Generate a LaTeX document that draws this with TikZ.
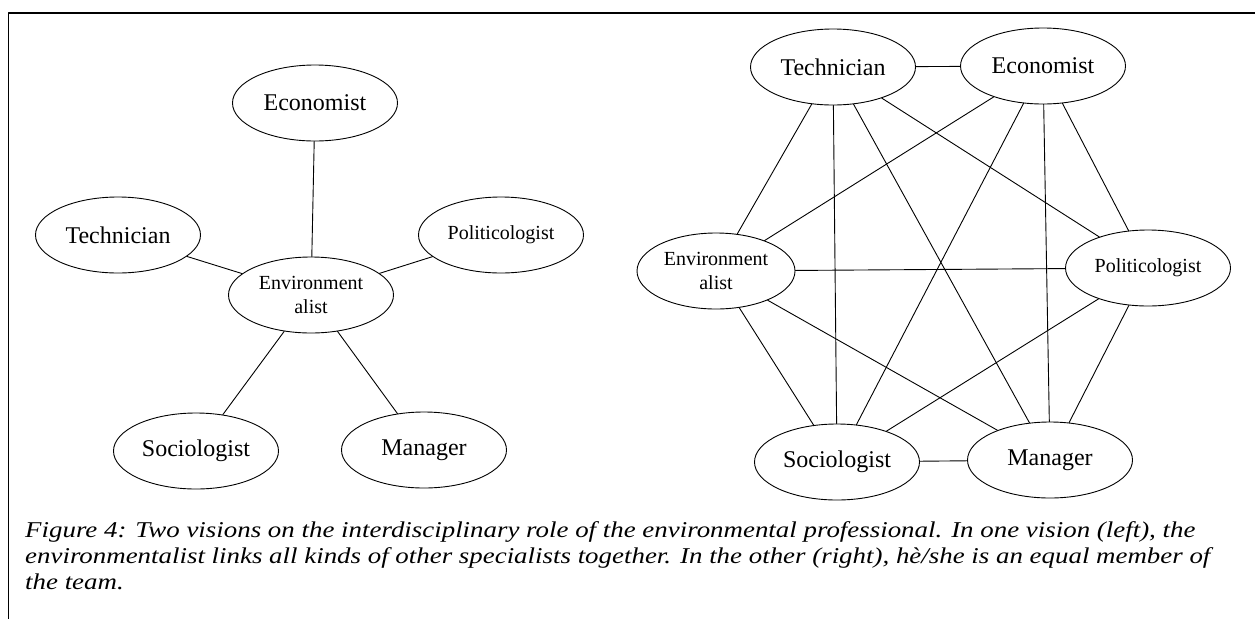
\documentclass[tikz,border=0pt]{standalone}
\usepackage{fontspec}
\setmainfont{Liberation Serif}
\newfontfamily\capfont[FakeStretch=1.19]{Liberation Serif}
\usetikzlibrary{shapes.geometric}
\begin{document}
\begin{tikzpicture}[
  x=1pt, y=-1pt,
  line join=round, line cap=round,
  role/.style={draw, ellipse, line width=0.9pt, minimum width=165pt,
    minimum height=76pt, inner sep=0pt, font=\fontsize{24}{26}\selectfont},
  small/.style={font=\fontsize{20}{24.5}\selectfont, align=center},
  link/.style={line width=0.9pt},
  capline/.style={anchor=base west, inner sep=0pt,
    font=\capfont\itshape\fontsize{22.6}{26}\selectfont},
]
\useasboundingbox (0,0) rectangle (1255,619);

% the frame
\draw[line width=1.7pt, line cap=butt] (1255,12.7) -| (8.5,619);

% left: the environmentalist in the middle
\node[role] (lecon) at (315,103) {Economist};
\node[role] (ltech) at (118,235) {Technician};
\node[role, small] (lenv) at (311,295) {Environment\\alist};
\node[role, small] (lpol) at (501,235) {Politicologist};
\node[role] (lsoc) at (196,451) {Sociologist};
\node[role] (lman) at (424,450) {Manager};

\foreach \n in {lecon,ltech,lpol,lsoc,lman} { \draw[link] (lenv) -- (\n); }

% right: everybody linked to everybody
\node[role] (rtech) at (833,67) {Technician};
\node[role] (recon) at (1043,66) {Economist};
\node[role, small, minimum width=158pt] (renv) at (716,271) {Environment\\alist};
\node[role, small] (rpol) at (1148,268) {Politicologist};
\node[role] (rsoc) at (837,462) {Sociologist};
\node[role] (rman) at (1050,460) {Manager};

\foreach \a/\b in {rtech/recon,rtech/renv,rtech/rpol,rtech/rsoc,rtech/rman,
  recon/renv,recon/rpol,recon/rsoc,recon/rman,
  renv/rpol,renv/rsoc,renv/rman,
  rpol/rsoc,rpol/rman,rsoc/rman} { \draw[link] (\a) -- (\b); }

% the caption
\node[capline] (capa) at (25,537) {Figure 4: Two visions on the interdisciplinary role of the environmental professional. In one vision (left), the};
\node[capline] (capb) at (25,563) {environmentalist links all kinds of other specialists together. In the other (right), hè/she is an equal member of};
\node[capline] (capc) at (25,589) {the team.};
\end{tikzpicture}
\end{document}
